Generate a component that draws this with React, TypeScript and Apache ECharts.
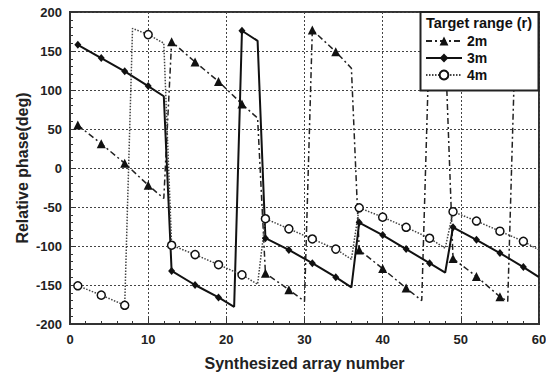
import React, { useEffect, useRef } from "react";
import * as echarts from "echarts";

// Synthesized array number (x) and relative phase in degrees (y).
// Points are the plotted markers plus the ends of each straight run.
const X_2M = [1, 4, 7, 10, 12, 13, 16, 19, 22, 24, 25, 28, 30, 31, 34, 36, 37, 40, 43, 45, 46, 48, 49, 52, 55, 56, 57, 58, 60];
const Y_2M = [55, 31, 6, -22, -39, 162, 136, 111, 82, 64, -135, -156, -171, 177, 149, 128, -105, -129, -154, -170, 175, 157, -116, -139, -165, -171, 176, 167, 150];

const X_3M = [1, 4, 7, 10, 12, 13, 16, 19, 21, 22, 24, 25, 28, 31, 34, 36, 37, 40, 43, 46, 48, 49, 52, 55, 58, 60];
const Y_3M = [158, 141, 124, 105, 92, -132, -150, -166, -178, 176, 163, -90, -105, -122, -140, -153, -70, -86, -104, -122, -134, -76, -92, -109, -127, -140];

const X_4M = [1, 4, 7, 8, 10, 12, 13, 16, 19, 22, 24, 25, 28, 31, 34, 36, 37, 40, 43, 46, 48, 49, 52, 55, 58, 60];
const Y_4M = [-151, -163, -176, 179, 171, 160, -99, -111, -124, -137, -149, -65, -78, -91, -104, -117, -51, -63, -76, -90, -103, -56, -68, -81, -94, -105];

const SERIES_NAMES = ["2m", "3m", "4m"];
const LEGEND_TITLE = "Target range (r)";
const X_TITLE = "Synthesized array number";
const Y_TITLE = "Relative phase(deg)";

const FONT = "'Liberation Sans', Arial, sans-serif";

function build(xs: number[], ys: number[]) {
  return xs.map((x, i) =>
    x % 3 === 1 ? { value: [x, ys[i]] } : { value: [x, ys[i]], symbol: "none" }
  );
}

export default function App() {
  const ref = useRef<HTMLDivElement>(null);
  useEffect(() => {
    if (!ref.current) return;
    const chart = echarts.init(ref.current, null, { renderer: "svg" });
    chart.setOption({
      animation: false,
      backgroundColor: "#ffffff",
      grid: {
        left: 70,
        right: 7,
        top: 12,
        bottom: 48,
        outerBoundsMode: "none",
        containLabel: false,
        show: true,
        borderColor: "#333",
        borderWidth: 2,
        backgroundColor: "transparent",
      },
      xAxis: {
        type: "value",
        min: 0,
        max: 60,
        interval: 10,
        name: X_TITLE,
        nameLocation: "middle",
        nameGap: 31,
        nameMoveOverlap: false,
        nameTextStyle: { fontFamily: FONT, fontWeight: "bold", fontSize: 16, color: "#222" },
        axisLine: { show: true, onZero: false, lineStyle: { color: "#333", width: 2 } },
        axisTick: { show: true, inside: true, length: 6, lineStyle: { color: "#333", width: 1 } },
        minorTick: { show: true, splitNumber: 5, length: 3, lineStyle: { color: "#333", width: 1 } },
        axisLabel: { fontFamily: FONT, fontWeight: "bold", fontSize: 13, color: "#222", margin: 9 },
        splitLine: { show: true, lineStyle: { color: "#444", type: [2, 2], width: 1 } },
      },
      yAxis: {
        type: "value",
        min: -200,
        max: 200,
        interval: 50,
        name: Y_TITLE,
        nameLocation: "middle",
        nameGap: 40,
        nameMoveOverlap: false,
        nameTextStyle: { fontFamily: FONT, fontWeight: "bold", fontSize: 16, color: "#222" },
        axisLine: { show: true, onZero: false, lineStyle: { color: "#333", width: 2 } },
        axisTick: { show: true, inside: true, length: 6, lineStyle: { color: "#333", width: 1 } },
        minorTick: { show: true, splitNumber: 5, length: 3, lineStyle: { color: "#333", width: 1 } },
        axisLabel: { fontFamily: FONT, fontWeight: "bold", fontSize: 13, color: "#222", margin: 8 },
        splitLine: { show: true, lineStyle: { color: "#444", type: [2, 2], width: 1 } },
      },
      legend: {
        orient: "vertical",
        left: 425,
        top: 34,
        itemWidth: 36,
        itemHeight: 11,
        itemGap: 3,
        padding: 0,
        z: 10,
        textStyle: { fontFamily: FONT, fontWeight: "bold", fontSize: 14, color: "#111", lineHeight: 14 },
        data: SERIES_NAMES,
      },
      graphic: [
        {
          type: "rect",
          z: 8,
          shape: { x: 420.5, y: 12, width: 118, height: 78.5 },
          style: { fill: "#fff", stroke: "#222", lineWidth: 2 },
        },
        {
          type: "text",
          z: 9,
          x: 426,
          y: 15,
          style: {
            text: LEGEND_TITLE,
            font: `bold 14.5px ${FONT}`,
            fill: "#111",
          },
        },
      ],
      series: [
        {
          name: SERIES_NAMES[0],
          type: "line",
          data: build(X_2M, Y_2M),
          symbol: "triangle",
          showAllSymbol: true,
          symbolSize: 9,
          lineStyle: { color: "#222", width: 1.5, type: [6, 3, 2, 3] },
          itemStyle: { color: "#111" },
        },
        {
          name: SERIES_NAMES[1],
          type: "line",
          data: build(X_3M, Y_3M),
          symbol: "diamond",
          showAllSymbol: true,
          symbolSize: [7, 8],
          lineStyle: { color: "#111", width: 2, type: "solid" },
          itemStyle: { color: "#111" },
        },
        {
          name: SERIES_NAMES[2],
          type: "line",
          data: build(X_4M, Y_4M),
          symbol: "circle",
          showAllSymbol: true,
          symbolSize: 8,
          lineStyle: { color: "#444", width: 1.5, type: [1.5, 1.5] },
          itemStyle: { color: "#fff", borderColor: "#111", borderWidth: 1.5 },
        },
      ],
    });
    return () => chart.dispose();
  }, []);
  return (
    <div
      ref={ref}
      style={{ position: "fixed", left: 0, top: 0, width: 546, height: 372 }}
    />
  );
}
